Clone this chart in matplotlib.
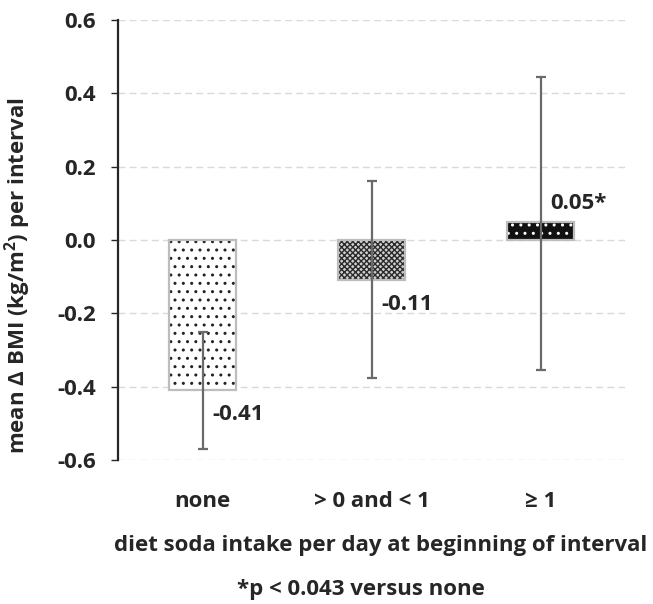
"""Mean change in BMI per interval by diet soda intake."""
import matplotlib
matplotlib.use("Agg")
import matplotlib.pyplot as plt
import numpy as np

plt.rcParams["font.family"] = ["Open Sans", "DejaVu Sans"]
plt.rcParams["font.weight"] = "bold"
plt.rcParams["mathtext.fontset"] = "custom"
plt.rcParams["mathtext.rm"] = "Open Sans:bold"
plt.rcParams["mathtext.bf"] = "Open Sans:bold"
plt.rcParams["hatch.linewidth"] = 1.0

categories = ["none", "> 0 and < 1", "\u2265 1"]
means = [-0.41, -0.11, 0.05]
ci_low = [-0.57, -0.375, -0.355]
ci_high = [-0.25, 0.16, 0.445]
value_labels = ["-0.41", "-0.11", "0.05*"]
yticks = [-0.6, -0.4, -0.2, 0.0, 0.2, 0.4, 0.6]

TXT = "#262626"
FS = 16


def main():
    fig = plt.figure(figsize=(6.53, 6.04), dpi=100)
    ax = fig.add_axes([118 / 653, 1 - 460 / 604, (625 - 118) / 653, 440 / 604])

    x = np.arange(len(categories))
    faces = ["white", "#d0d0d0", "#111111"]
    hatch_cols = ["#222222", "#2a2a2a", "white"]
    hatches = ["..", "xxxxxx", ".."]

    ax.set_axisbelow(True)
    ax.yaxis.grid(True, color="#d9d9d9", linestyle=(0, (5, 3)), linewidth=1.0)

    for i in range(len(x)):
        ax.bar(x[i], means[i], width=0.4, color=faces[i], edgecolor=hatch_cols[i],
               hatch=hatches[i], linewidth=0, zorder=2)
    ax.bar(x, means, width=0.4, fill=False, edgecolor="#bdbdbd", linewidth=1.6, zorder=3)

    lower = np.array(means) - np.array(ci_low)
    upper = np.array(ci_high) - np.array(means)
    ax.errorbar(x, means, yerr=[lower, upper], fmt="none", ecolor="#6a6a6a",
                elinewidth=1.6, capsize=3.5, capthick=1.6, zorder=4)

    for i, lab in enumerate(value_labels):
        yy = means[i] - 0.065 if means[i] < 0 else means[i] + 0.05
        ax.text(x[i] + 0.06, yy, lab, ha="left", va="center", fontsize=FS,
                fontweight="bold", color=TXT, zorder=5)

    ax.set_xlim(-0.5, 2.5)
    ax.set_ylim(-0.6, 0.6)
    ax.set_yticks(yticks)
    ax.set_yticklabels([f"{v:.1f}" for v in yticks])
    ax.set_xticks(x)
    ax.set_xticklabels(categories)
    ax.tick_params(axis="x", length=0, pad=22, labelsize=FS, labelcolor=TXT)
    ax.tick_params(axis="y", length=5, width=1, direction="out", pad=11,
                   labelsize=FS, labelcolor=TXT, color=TXT)
    for lab in ax.get_xticklabels() + ax.get_yticklabels():
        lab.set_fontweight("bold")

    for side in ["top", "right", "bottom"]:
        ax.spines[side].set_visible(False)
    ax.spines["left"].set_color(TXT)
    ax.spines["left"].set_linewidth(1.6)

    fig.text(18 / 653, 1 - 276 / 604, "mean \u0394 BMI (kg/m$^{2}$) per interval",
             rotation=90, ha="center", va="center", fontsize=FS, fontweight="bold",
             color=TXT)
    fig.text(381 / 653, 1 - 545 / 604, "diet soda intake per day at beginning of interval",
             ha="center", va="center", fontsize=FS, fontweight="bold", color=TXT)
    fig.text(361 / 653, 1 - 589 / 604, "*p < 0.043 versus none",
             ha="center", va="center", fontsize=FS, fontweight="bold", color=TXT)

    fig.savefig("out.png", dpi=100)


if __name__ == "__main__":
    main()
